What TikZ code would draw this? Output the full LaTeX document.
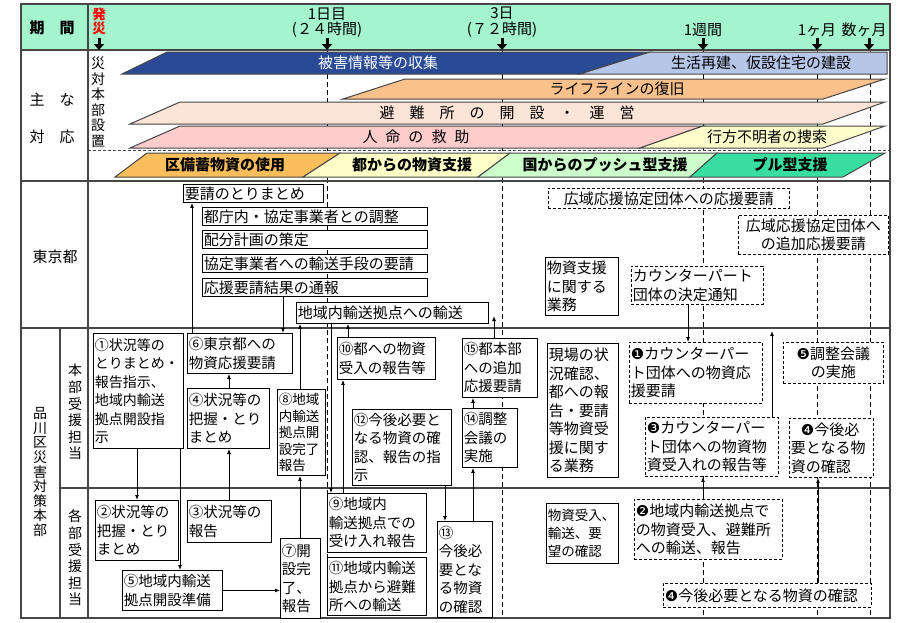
\documentclass[tikz,border=0pt]{standalone}
\usepackage{fontspec}
\setmainfont{Noto Sans CJK JP}
\newfontfamily\dv{DejaVu Sans}
\usetikzlibrary{arrows.meta}
\definecolor{hdr}{RGB}{164,244,206}
\definecolor{frm}{RGB}{70,70,70}
\definecolor{bdark}{RGB}{42,74,150}
\definecolor{blight}{RGB}{182,198,232}
\definecolor{orng}{RGB}{250,193,140}
\definecolor{peach}{RGB}{252,228,214}
\definecolor{pinkb}{RGB}{255,204,204}
\definecolor{ylw}{RGB}{255,255,204}
\definecolor{sorng}{RGB}{250,190,92}
\definecolor{sylw}{RGB}{255,255,200}
\definecolor{sgrn}{RGB}{204,255,204}
\definecolor{steal}{RGB}{56,222,160}
\newcommand\bn[1]{{\dv #1}}
\tikzset{
  fs/.style={font=\fontsize{15}{18.5}\selectfont},
  fm/.style={font=\fontsize{14.5}{18.5}\selectfont},
  box/.style={draw=black, line width=0.9pt, fill=white, inner sep=1.5pt, anchor=north west, align=left},
  dbox/.style={box, dash pattern=on 3pt off 2pt},
  arr/.style={line width=0.9pt, -{Latex[length=5pt,width=4pt]}},
  tl/.style={line width=0.9pt, dash pattern=on 5pt off 3pt},
  harr/.style={line width=3pt, -{Triangle[length=6pt,width=10pt]}},
  bar/.style={draw=frm, line width=1pt},
  frame/.style={draw=frm, line width=1.2pt},
  lbl/.style={inner sep=0pt, font=\fontsize{15}{18}\selectfont},
}
\begin{document}
\begin{tikzpicture}[x=1pt,y=-1pt]
\useasboundingbox (0,0) rectangle (897,622);
% header
\fill[hdr] (21,4) rectangle (890,50);
% timeline dashed lines
\foreach \xx in {327,502,703,817,870} \draw[tl] (\xx,50) -- (\xx,618);
% bars
\filldraw[bar, fill=bdark] (122,74) -- (167,52) -- (650,52) -- (580,74) -- cycle;
\filldraw[bar, fill=blight] (580,74) -- (650,52) -- (887,52) -- (887,74) -- cycle;
\filldraw[bar, fill=orng] (343,99) -- (405,79) -- (885,79) -- (823,99) -- cycle;
\filldraw[bar, fill=peach] (130,124) -- (180,102) -- (885,102) -- (823,124) -- cycle;
\filldraw[bar, fill=pinkb] (130,148) -- (180,126) -- (703,126) -- (640,148) -- cycle;
\filldraw[bar, fill=ylw] (640,148) -- (703,126) -- (885,126) -- (823,148) -- cycle;
\filldraw[bar, fill=sorng] (115,177) -- (147,153) -- (340,153) -- (303,177) -- cycle;
\filldraw[bar, fill=sylw] (303,177) -- (340,153) -- (510,153) -- (478,177) -- cycle;
\filldraw[bar, fill=sgrn] (478,177) -- (510,153) -- (717,153) -- (690,177) -- cycle;
\filldraw[bar, fill=steal] (690,177) -- (717,153) -- (885,153) -- (843,177) -- cycle;
\node[lbl,text=white] (b1) at (378,63) {被害情報等の収集};
\node[lbl] (b2) at (761,63) {生活再建、仮設住宅の建設};
\node[lbl] (b3) at (617,89) {ライフラインの復旧};
\node[lbl] (b4) at (507,113) {避　難　所　の　開　設　・　運　営};
\node[lbl] (b5) at (416,137) {人\hspace{8pt}命\hspace{8pt}の\hspace{8pt}救\hspace{8pt}助};
\node[lbl] (b6) at (767,137) {行方不明者の捜索};
\node[lbl,font=\bfseries\fontsize{15}{18}\selectfont] (s1) at (225,165) {区備蓄物資の使用};
\node[lbl,font=\bfseries\fontsize{15}{18}\selectfont] (s2) at (412,165) {都からの物資支援};
\node[lbl,font=\bfseries\fontsize{15}{18}\selectfont] (s3) at (605,165) {国からのプッシュ型支援};
\node[lbl,font=\bfseries\fontsize{15}{18}\selectfont] (s4) at (790,165) {プル型支援};
% frame
\draw[frame] (21,4) rectangle (890,618);
\draw[frame] (21,50) -- (890,50);
\draw[frame] (21,181) -- (890,181);
\draw[frame] (21,328) -- (890,328);
\draw[frame] (60,488) -- (890,488);
\draw[frame] (88,4) -- (88,618);
\draw[frame] (60,328) -- (60,618);
\draw[draw=frm, dash pattern=on 3pt off 2pt, line width=0.9pt] (88,150) -- (890,150);
% header labels
\node[lbl,font=\bfseries\fontsize{15}{18}\selectfont] (hq) at (52,28) {期　間};
\node[lbl,text=red,align=center,font=\bfseries\fontsize{13.5}{12.5}\selectfont] (hs) at (99,21) {発\\災};
\node[lbl] (d1) at (327,14) {1日目};
\node[lbl] (d1b) at (327,30) {(２４時間)};
\node[lbl] (d3) at (502,13) {3日};
\node[lbl] (d3b) at (502,30) {(７２時間)};
\node[lbl] (dw) at (703,30) {1週間};
\node[lbl] (dm) at (817,30) {1ヶ月};
\node[lbl] (dn) at (864,30) {数ヶ月};
\foreach \xx in {99,327,502,703,817,869} {
  \coordinate (ma\xx) at (\xx,38); \coordinate (mb\xx) at (\xx,50);
  \draw[harr] (ma\xx) -- (mb\xx);
}
% left labels
\node[lbl] (lm1) at (52,100) {主　な};
\node[lbl] (lm2) at (52,137) {対　応};
\node[lbl,align=center,font=\fontsize{14}{15.5}\selectfont] (vz) at (98,102) {災\\対\\本\\部\\設\\置};
\node[lbl] (lt) at (55,257) {東京都};
\node[lbl,align=center,font=\fontsize{14}{14.6}\selectfont] (vs) at (40,472) {品\\川\\区\\災\\害\\対\\策\\本\\部};
\node[lbl,align=center,font=\fontsize{14}{16.6}\selectfont] (vh) at (75,412) {本\\部\\受\\援\\担\\当};
\node[lbl,align=center,font=\fontsize{14}{16.6}\selectfont] (vk) at (75,558) {各\\部\\受\\援\\担\\当};
% Tokyo boxes
\node[box,fs,minimum width=140pt,minimum height=18pt,text width=137pt] (t1) at (183,184) {要請のとりまとめ};
\node[box,fs,minimum width=225pt,minimum height=18pt,text width=222pt] (t2) at (202,207) {都庁内・協定事業者との調整};
\node[box,fs,minimum width=225pt,minimum height=18pt,text width=222pt] (t3) at (202,230) {配分計画の策定};
\node[box,fs,minimum width=225pt,minimum height=18pt,text width=222pt] (t4) at (202,254) {協定事業者への輸送手段の要請};
\node[box,fs,minimum width=225pt,minimum height=18pt,text width=222pt] (t5) at (202,278) {応援要請結果の通報};
\node[box,fs,minimum width=192pt,minimum height=21pt,text width=189pt] (t6) at (296,302) {地域内輸送拠点への輸送};
\node[dbox,fs,align=center,minimum width=241pt,minimum height=20pt,text width=238pt] (t7) at (548,188) {広域応援協定団体への応援要請};
\node[dbox,fs,align=center,minimum width=150pt,minimum height=39pt,text width=147pt] (t8) at (738,215) {広域応援協定団体へ\\の追加応援要請};
\node[box,fs,minimum width=73pt,minimum height=58pt,text width=70pt] (t9) at (545,257) {物資支援\\に関する\\業務};
\node[dbox,fs,minimum width=132pt,minimum height=38pt,text width=129pt] (t10) at (631,266) {カウンターパート\\団体の決定通知};
% Honbu boxes
\node[box,font=\fontsize{14}{18.5}\selectfont,minimum width=90pt,minimum height=115pt,text width=87pt] (n1) at (93,333) {①状況等の\\とりまとめ・\\報告指示、\\地域内輸送\\拠点開設指\\示};
\node[box,fm,minimum width=105pt,minimum height=40pt,text width=102pt] (n6) at (187,333) {⑥東京都への\\物資応援要請};
\node[box,fm,minimum width=82pt,minimum height=60pt,text width=79pt] (n4) at (187,388) {④状況等の\\把握・とり\\まとめ};
\node[box,font=\fontsize{13.5}{16.5}\selectfont,minimum width=48pt,minimum height=86pt,text width=45pt] (n8) at (277,389) {⑧地域\\内輸送\\拠点開\\設完了\\報告};
\node[box,fm,minimum width=98pt,minimum height=42pt,text width=95pt] (n10) at (337,337) {⑩都への物資\\受入の報告等};
\node[box,fm,minimum width=99pt,minimum height=76pt,text width=96pt] (n12) at (352,409) {⑫今後必要と\\なる物資の確\\認、報告の指\\示};
\node[box,fm,minimum width=75pt,minimum height=59pt,text width=72pt] (n15) at (462,338) {⑮都本部\\への追加\\応援要請};
\node[box,fm,minimum width=55pt,minimum height=59pt,text width=52pt] (n14) at (462,408) {⑭調整\\会議の\\実施};
\node[box,fs,minimum width=71pt,minimum height=134pt,text width=68pt] (r1) at (547,343) {現場の状\\況確認、\\都への報\\告・要請\\等物資受\\援に関す\\る業務};
\node[dbox,fs,minimum width=133pt,minimum height=61pt,text width=130pt] (c1) at (629,342) {\bn{❶}カウンターパー\\ト団体への物資応\\援要請};
\node[dbox,fs,minimum width=133pt,minimum height=59pt,text width=130pt] (c3) at (645,417) {\bn{❸}カウンターパー\\ト団体への物資物\\資受入れの報告等};
\node[dbox,fs,align=center,minimum width=100pt,minimum height=41pt,text width=97pt] (c5) at (783,342) {\bn{❺}調整会議\\の実施};
\node[dbox,fs,minimum width=84pt,minimum height=59pt,text width=81pt] (c4) at (789,418) {\hspace*{10pt}\bn{❹}今後必\\要となる物\\資の確認};
% Kakubu boxes
\node[box,fm,minimum width=83pt,minimum height=60pt,text width=80pt] (n2) at (95,500) {②状況等の\\把握・とり\\まとめ};
\node[box,fm,minimum width=84pt,minimum height=42pt,text width=81pt] (n3) at (187,500) {③状況等の\\報告};
\node[box,fm,minimum width=100pt,minimum height=40pt,text width=97pt] (n5) at (122,570) {⑤地域内輸送\\拠点開設準備};
\node[box,fm,minimum width=40pt,minimum height=80pt,text width=37pt] (n7) at (280,538) {⑦開\\設完\\了、\\報告};
\node[box,fm,minimum width=99pt,minimum height=59pt,text width=96pt] (n9) at (327,493) {⑨地域内\\輸送拠点での\\受け入れ報告};
\node[box,fm,minimum width=99pt,minimum height=58pt,text width=96pt] (n11) at (327,557) {⑪地域内輸送\\拠点から避難\\所への輸送};
\node[box,fm,minimum width=55pt,minimum height=96pt,text width=52pt] (n13) at (437,521) {⑬\\今後必\\要とな\\る物資\\の確認};
\node[box,font=\fontsize{13.5}{18}\selectfont,minimum width=72pt,minimum height=60pt,text width=69pt] (r2) at (546,503) {物資受入、\\輸送、要\\望の確認};
\node[dbox,fs,minimum width=148pt,minimum height=60pt,text width=145pt] (c2) at (634,499) {\bn{❷}地域内輸送拠点で\\の物資受入、避難所\\への輸送、報告};
\node[dbox,fs,minimum width=208pt,minimum height=24pt,text width=205pt] (c4b) at (663,583) {\bn{❹}今後必要となる物資の確認};
% connector columns
\foreach \xx in {137,180,192,229,283,300,331,343,348,445,473,688,703,818} \coordinate (v\xx) at (\xx,0);
\coordinate (e15) at (494,316);
\coordinate (e3) at (772,331);
% connectors
\draw[arr] (n1.south -| v137) -- (n2.north -| v137);
\draw[arr] (n1.south -| v180) -- (n5.north -| v180);
\draw[arr] (n3.north -| v229) -- (n4.south -| v229);
\draw[arr] (n4.north -| v229) -- (n6.south -| v229);
\draw[arr] (n6.north -| v192) -- (t1.south -| v192);
\draw[arr] (t5.south -| v283) -- (n6.north -| v283);
\draw[arr] (n8.north -| v300) -- (t6.south -| v300);
\draw[arr] (n7.north -| v300) -- (n8.south -| v300);
\draw[arr] (n5.east) -- (n5.east -| n7.west);
\draw[arr] (t6.south -| v331) -- (n9.north -| v331);
\draw[arr] (n9.north -| v343) -- (n10.south -| v343);
\draw[arr] (n10.north -| v348) -- (t6.south -| v348);
\draw[arr] (n12.south -| v445) -- (n13.north -| v445);
\draw[arr] (n13.north -| v473) -- (n14.south -| v473);
\draw[arr] (n14.north -| v473) -- (n15.south -| v473);
\draw[arr] (n15.north -| e15) -- (e15);
\draw[arr] (t10.south -| v688) -- (c1.north -| v688);
\draw[arr] (c3.north -| e3) -- (e3);
\draw[arr] (c2.north -| v703) -- (c3.south -| v703);
\draw[arr] (c4b.north -| v818) -- (c4.south -| v818);
\end{tikzpicture}
\end{document}
